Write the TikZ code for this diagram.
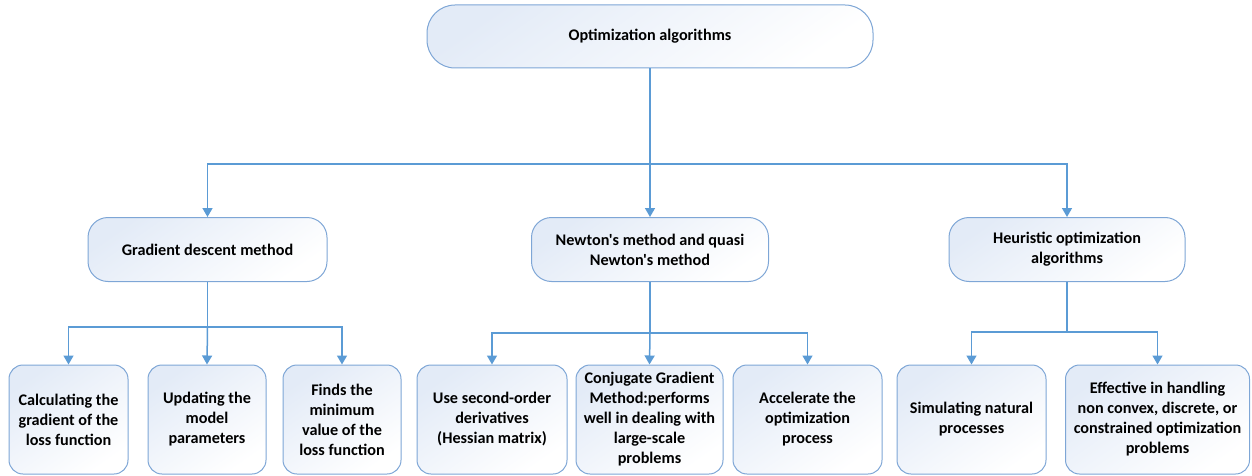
\documentclass[tikz,border=0pt]{standalone}
\usepackage{fontspec}
\setmainfont{Carlito}[Ligatures=TeXOff]
\usetikzlibrary{arrows.meta}
\definecolor{linec}{HTML}{5B9BD5}
\definecolor{boxborder}{HTML}{7EA6D6}
\definecolor{boxfill}{HTML}{E3EBF7}
\begin{document}
\begin{tikzpicture}[x=1pt,y=1pt,
  box/.style={draw=boxborder, line width=1pt, top color=boxfill, bottom color=white, shading angle=35,
    align=center, font=\fontsize{16.2}{20}\selectfont\bfseries, inner sep=0pt, text=black},
  topbox/.style={box, minimum width=446pt, minimum height=63pt, rounded corners=28pt},
  midbox/.style={box, minimum height=64pt, rounded corners=20pt},
  leafbox/.style={box, minimum height=109pt, rounded corners=14pt},
  conn/.style={draw=linec, line width=1.5pt},
  arr/.style={conn, -{Triangle[width=10pt,length=9pt]}}
]
\useasboundingbox (0,0) rectangle (1252,-476);

\node[topbox] (top) at (650,-36.5) {Optimization algorithms};

\node[midbox, minimum width=239pt] (g) at (207.5,-249.5) {Gradient descent method};
\node[midbox, minimum width=237pt] (n) at (650,-249.5) {Newton's method and quasi\\Newton's method};
\node[midbox, minimum width=236pt] (h) at (1067,-249.5) {Heuristic optimization\\algorithms};

\node[leafbox, minimum width=119pt] (b1) at (68.5,-419.5) {Calculating the\\gradient of the\\loss function};
\node[leafbox, minimum width=118pt] (b2) at (207,-419.5) {Updating the\\model\\parameters};
\node[leafbox, minimum width=118pt] (b3) at (342,-419.5) {Finds the\\minimum\\value of the\\loss function};
\node[leafbox, minimum width=150pt] (b4) at (492,-419.5) {Use second-order\\derivatives\\(Hessian matrix)};
\node[leafbox, minimum width=147pt] (b5) at (649.5,-419.5) {Conjugate Gradient\\Method:performs\\well in dealing with\\large-scale\\problems};
\node[leafbox, minimum width=149pt] (b6) at (807.5,-419.5) {Accelerate the\\optimization\\process};
\node[leafbox, minimum width=149pt] (b7) at (971.5,-419.5) {Simulating natural\\processes};
\node[leafbox, minimum width=184pt] (b8) at (1157.5,-419.5) {Effective in handling\\non convex, discrete, or\\constrained optimization\\problems};

\coordinate (j1) at (650,-164);
\coordinate (j2) at (207.5,-327);
\coordinate (j3) at (650,-333);
\coordinate (j4) at (1067,-332);

\draw[conn] (top.south) -- (j1);
\draw[arr] (j1) -| (g.north);
\draw[arr] (j1) -- (n.north);
\draw[arr] (j1) -| (h.north);

\draw[conn] (g.south) -- (j2);
\draw[arr] (j2) -| (b1.north);
\draw[arr] (j2) -- (b2.north);
\draw[arr] (j2) -| (b3.north);

\draw[conn] (n.south) -- (j3);
\draw[arr] (j3) -| (b4.north);
\draw[arr] (j3) -- (b5.north);
\draw[arr] (j3) -| (b6.north);

\draw[conn] (h.south) -- (j4);
\draw[arr] (j4) -| (b7.north);
\draw[arr] (j4) -| (b8.north);
\end{tikzpicture}
\end{document}
